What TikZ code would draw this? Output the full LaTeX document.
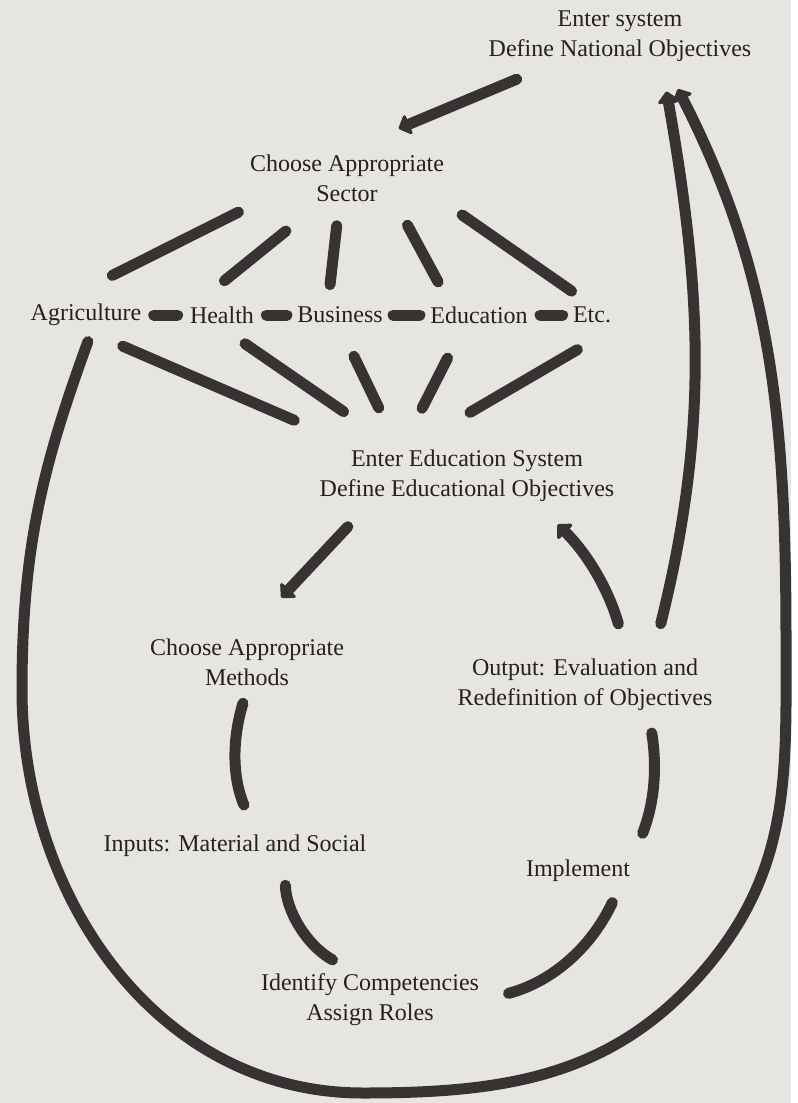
\documentclass[tikz,border=0pt]{standalone}
\usepackage{fontspec}
\setmainfont{Liberation Serif}
\usetikzlibrary{arrows.meta,positioning,calc}
\definecolor{ink}{RGB}{56,51,51}
\definecolor{textink}{RGB}{38,32,32}
\definecolor{paper}{RGB}{231,229,226}

\begin{document}
\begin{tikzpicture}[x=0.5pt, y=-0.5pt,
    lbl/.style={align=center, inner sep=2pt, text=textink, font=\fontsize{12}{15}\selectfont},
    link/.style={draw=ink, line width=5.5pt, line cap=round},
    arr/.style={link, -{Triangle[round, length=6pt, width=12pt]}}]
    \fill[paper] (0,0) rectangle (791,1103);

    % Labels
    \node[lbl] (nat) at (620,36) {Enter system\\Define National Objectives};
    \node[lbl] (sector) at (347,178) {Choose Appropriate\\Sector};
    \node[lbl] (agri) at (86,315) {Agriculture};
    \node[lbl] (health) at (222,315) {Health};
    \node[lbl] (business) at (340,315) {Business};
    \node[lbl] (education) at (479,315) {Education};
    \node[lbl] (etc) at (592,315) {Etc.};
    \node[lbl] (edusys) at (467,476) {Enter Education System\\Define Educational Objectives};
    \node[lbl] (methods) at (247,662) {Choose Appropriate\\Methods};
    \node[lbl] (output) at (585,685) {Output: Evaluation and\\Redefinition of Objectives};
    \node[lbl] (inputs) at (235,846) {Inputs: Material and Social};
    \node[lbl] (impl) at (578,871) {Implement};
    \node[lbl] (comp) at (370,1000) {Identify Competencies\\Assign Roles};

    % National objectives -> sector
    \draw[arr, shorten <=56pt, shorten >=28pt] (nat.center) -- (sector.north);

    % Sector fan
    \draw[link, shorten <=7pt, shorten >=27pt] ([xshift=-48pt]sector.south) -- ([xshift=-11pt]agri.north);
    \draw[link, shorten <=20pt, shorten >=17pt] ([xshift=-15pt]sector.south) -- ([xshift=-12pt]health.north);
    \draw[link, shorten <=10pt, shorten >=9pt] ([xshift=-4pt]sector.south) -- ([xshift=-6pt]business.north);
    \draw[link, shorten <=11pt, shorten >=11.5pt] ([xshift=25pt]sector.south) -- ([xshift=-15pt]education.north);
    \draw[link, shorten <=8pt, shorten >=10pt] ([xshift=51pt]sector.south) -- ([xshift=-2pt]etc.north);

    % Sectors side by side
    \draw[link, shorten <=4pt, shorten >=4pt] (agri.east) -- (health.west);
    \draw[link, shorten <=4pt, shorten >=3pt] (health.east) -- (business.west);
    \draw[link, shorten <=3pt, shorten >=3pt] (business.east) -- (education.west);
    \draw[link, shorten <=4pt, shorten >=3pt] (education.east) -- (etc.west);

    % Sectors into education system
    \draw[link, shorten <=20pt, shorten >=32pt] (agri.south) -- ([xshift=-57pt]edusys.north);
    \draw[link, shorten <=14pt, shorten >=30pt] (health.south) -- ([xshift=-37pt]edusys.north);
    \draw[link, shorten <=16pt, shorten >=21pt] (business.south) -- ([xshift=-35pt]edusys.north);
    \draw[link, shorten <=17pt, shorten >=21pt] ([xshift=-8pt]education.south) -- ([xshift=-32pt]edusys.north);
    \draw[link, shorten <=22pt, shorten >=33pt] (etc.south east) -- ([xshift=-27pt]edusys.north);

    % Inner cycle
    \draw[arr, shorten <=14pt, shorten >=25pt] ([xshift=-50pt]edusys.south) -- (methods.north);
    \draw[link, shorten <=7pt, shorten >=14pt] (methods.south) to[bend right=20] ([xshift=10pt]inputs.north);
    \draw[link, shorten <=12pt, shorten >=10pt] ([xshift=25pt]inputs.south) to[bend right=30] ([xshift=-10pt]comp.north);
    \draw[link, shorten <=13pt, shorten >=9pt] (comp.east) to[bend right=25] ([xshift=21pt]impl.south);
    \draw[link, shorten <=12pt, shorten >=9pt] ([xshift=28pt]impl.north) to[bend right=15] ([xshift=32pt]output.south);
    \draw[arr, shorten <=16pt, shorten >=13pt] ([xshift=21pt]output.north) to[bend right=15] ([xshift=36pt]edusys.south);

    % Back to national objectives
    \draw[arr, shorten <=16pt, shorten >=13pt] ([xshift=34pt]output.north) to[out=76, in=-80] ([xshift=21pt]nat.south);
    \draw[arr, shorten <=6pt, shorten >=13pt] ([xshift=3pt]agri.south) to[out=-110, in=90] (22,690)
        to[out=-90, in=180] (363,1093) to[out=0, in=-130] (707,967)
        to[out=50, in=-90] (786,640) to[out=90, in=-63] ([xshift=23pt]nat.south);
\end{tikzpicture}
\end{document}
